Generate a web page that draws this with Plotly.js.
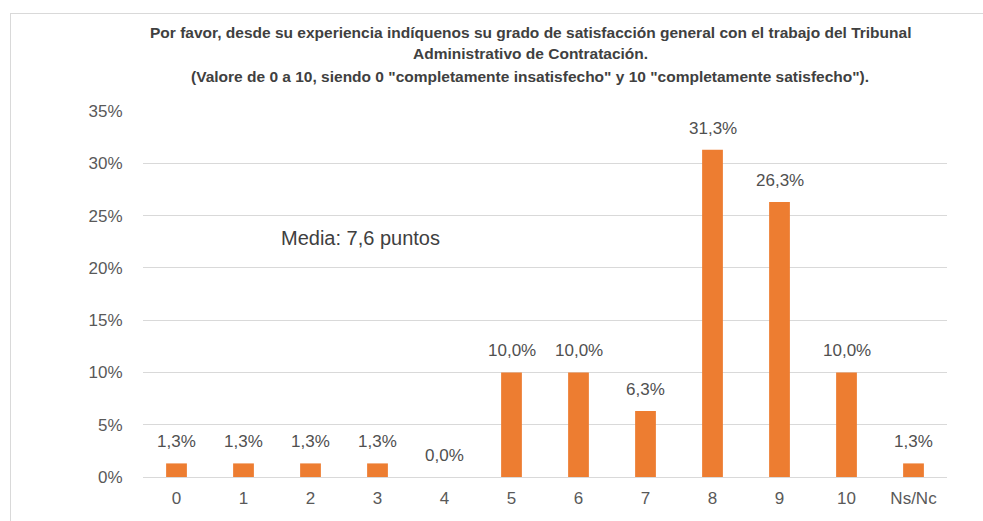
<!DOCTYPE html>
<html>
<head>
<meta charset="utf-8">
<script src="https://cdn.plot.ly/plotly-3.0.1.min.js"></script>
<style>
  body { margin: 0; background: #fff; }
  #wrap { position: relative; width: 983px; height: 521px; }
  #frame { position: absolute; left: 10px; top: 13px; right: 0; bottom: 0;
           border-left: 1px solid #d9d9d9; border-top: 1px solid #d9d9d9; }
  #chart { position: absolute; left: 0; top: 0; width: 983px; height: 521px; }
</style>
</head>
<body>
<div id="wrap">
  <div id="frame"></div>
  <div id="chart"></div>
</div>
<script>
// Datos del gráfico
const categories = ['0', '1', '2', '3', '4', '5', '6', '7', '8', '9', '10', 'Ns/Nc']
const values = [1.3, 1.3, 1.3, 1.3, 0.0, 10.0, 10.0, 6.3, 31.3, 26.3, 10.0, 1.3]
const yTicks = [0, 5, 10, 15, 20, 25, 30, 35]
const yTickText = ['0%', '5%', '10%', '15%', '20%', '25%', '30%', '35%']
const titleLines = [
  'Por favor, desde su experiencia indíquenos su grado de satisfacción general con el trabajo del Tribunal',
  'Administrativo de Contratación.',
  '(Valore de 0 a 10, siendo 0 "completamente insatisfecho" y 10 "completamente satisfecho").'
]
const mediaText = 'Media: 7,6 puntos'

// Etiquetas con coma decimal
const labels = values.map(v => v.toFixed(1).replace('.', ',') + '%')

const font = 'Liberation Sans, Arial, sans-serif'

const trace = {
  x: categories,
  y: values,
  type: 'bar',
  marker: { color: '#ed7d31' },
  width: 0.31,
  hoverinfo: 'x+y'
}

// Título en tres líneas separadas
const titleY = [32, 54, 76]
const annotations = titleLines.map((t, i) => ({
  text: '<b>' + t + '</b>',
  xref: 'paper',
  yref: 'paper',
  x: (530 - 143) / (947 - 143),
  y: 1 + (111 - titleY[i]) / (477 - 111),
  xanchor: 'center',
  yanchor: 'middle',
  showarrow: false,
  font: { family: font, size: 15.5, color: '#404040' }
}))

// Etiquetas de datos sobre cada barra
categories.forEach((c, i) => {
  annotations.push({
    text: labels[i],
    xref: 'x',
    yref: 'y',
    x: c,
    y: values[i],
    xanchor: 'center',
    yanchor: 'bottom',
    yshift: 10,
    showarrow: false,
    font: { family: font, size: 17, color: '#505050' }
  })
})

annotations.push({
  text: mediaText,
  xref: 'x',
  yref: 'y',
  x: 2.75,
  y: 22.9,
  xanchor: 'center',
  yanchor: 'middle',
  showarrow: false,
  font: { family: font, size: 20, color: '#404040' }
})

const layout = {
  width: 983,
  height: 521,
  margin: { l: 143, r: 36, t: 111, b: 44 },
  paper_bgcolor: 'rgba(0,0,0,0)',
  plot_bgcolor: 'rgba(0,0,0,0)',
  showlegend: false,
  xaxis: {
    type: 'category',
    tickfont: { family: font, size: 17, color: '#595959' },
    ticks: 'outside',
    ticklen: 6,
    tickcolor: 'rgba(0,0,0,0)',
    showgrid: false,
    showline: true,
    linecolor: '#d9d9d9',
    linewidth: 1
  },
  yaxis: {
    range: [0, 35],
    tickvals: yTicks,
    ticktext: yTickText,
    tickfont: { family: font, size: 17, color: '#595959' },
    ticks: 'outside',
    ticklen: 16,
    tickcolor: 'rgba(0,0,0,0)',
    gridcolor: '#d9d9d9',
    gridwidth: 1,
    zeroline: false,
    showline: false
  },
  annotations: annotations
}

Plotly.newPlot('chart', [trace], layout, { displayModeBar: false })
</script>
</body>
</html>
